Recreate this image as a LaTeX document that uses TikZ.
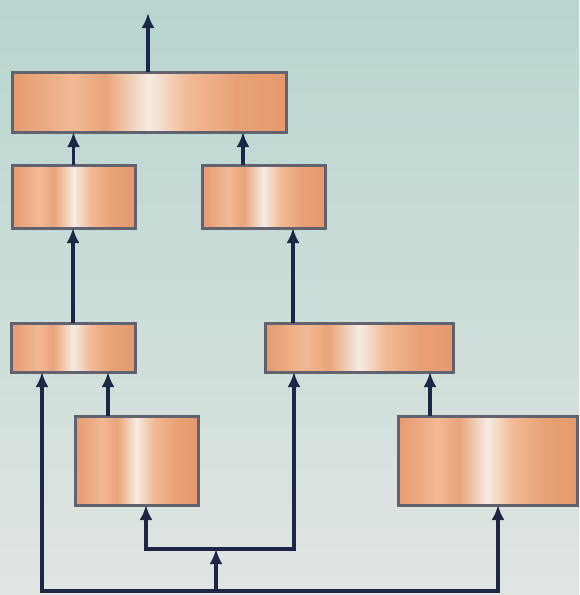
\documentclass[tikz,border=0pt]{standalone}
\usetikzlibrary{arrows.meta}
\definecolor{bgtop}{RGB}{184,213,207}
\definecolor{bgbot}{RGB}{224,229,226}
\definecolor{oA}{RGB}{230,154,110}
\definecolor{oB}{RGB}{241,186,148}
\definecolor{hiW}{RGB}{245,236,226}
\definecolor{edge}{RGB}{96,98,112}
\definecolor{navy}{RGB}{28,38,70}
\pgfdeclarehorizontalshading{boxshade}{100bp}{color(0bp)=(oA); color(25bp)=(oA); color(36bp)=(oB); color(42bp)=(oA!70!oB); color(50bp)=(hiW); color(57bp)=(oB); color(66bp)=(oA!80!oB); color(75bp)=(oA); color(100bp)=(oA)}
\tikzset{
  box/.style={draw=edge, line width=3pt, shading=boxshade, inner sep=0pt, outer sep=0pt},
  arr/.style={draw=navy, line width=3.2pt, -{Latex[length=15pt,width=13pt]}},
  arr2/.style={draw=navy, line width=3.2pt, {Latex[length=15pt,width=13pt]}-{Latex[length=15pt,width=13pt]}},
}
\begin{document}
\begin{tikzpicture}[x=1pt,y=-1pt]
\useasboundingbox (0,0) rectangle (579,595);
\shade[top color=bgtop, bottom color=bgbot] (0,0) rectangle (579,595);
\node[box, minimum width=274pt, minimum height=60pt] (T) at (149,102) {};
\node[box, minimum width=123pt, minimum height=63pt] (A) at (73.5,196.5) {};
\node[box, minimum width=123pt, minimum height=63pt] (B) at (263.5,196.5) {};
\node[box, minimum width=124pt, minimum height=49pt] (C) at (73,347.5) {};
\node[box, minimum width=188pt, minimum height=49pt] (D) at (359,347.5) {};
\node[box, minimum width=123pt, minimum height=89pt] (E) at (136.5,460.5) {};
\node[box, minimum width=179pt, minimum height=89pt] (F) at (487.5,460.5) {};
\coordinate (out) at (148,13);
\coordinate (bl) at (42,591);
\coordinate (br) at (498,591);
\coordinate (j1) at (216,591);
\coordinate (j2) at (216,549);
\coordinate (ml) at (146,549);
\coordinate (mr) at (294,549);
\draw[arr] (out |- T.north) -- (out);
\draw[arr] (A.north) -- (A.north |- T.south);
\draw[arr] ([xshift=-20.5pt]B.north) -- ([xshift=-20.5pt]B.north |- T.south);
\draw[arr] (C.north) -- (C.north |- A.south);
\draw[arr] ([xshift=-66pt]D.north) -- ([xshift=-66pt]D.north |- B.south);
\draw[arr] ([xshift=-28.5pt]E.north) -- ([xshift=-28.5pt]E.north |- C.south);
\draw[arr] ([xshift=-57.5pt]F.north) -- ([xshift=-57.5pt]F.north |- D.south);
\draw[arr2] (ml |- E.south) -- (ml) -- (mr) -- (mr |- D.south);
\draw[arr2] (bl |- C.south) -- (bl) -- (br) -- (br |- F.south);
\draw[arr] (j1) -- (j2);
\end{tikzpicture}
\end{document}
